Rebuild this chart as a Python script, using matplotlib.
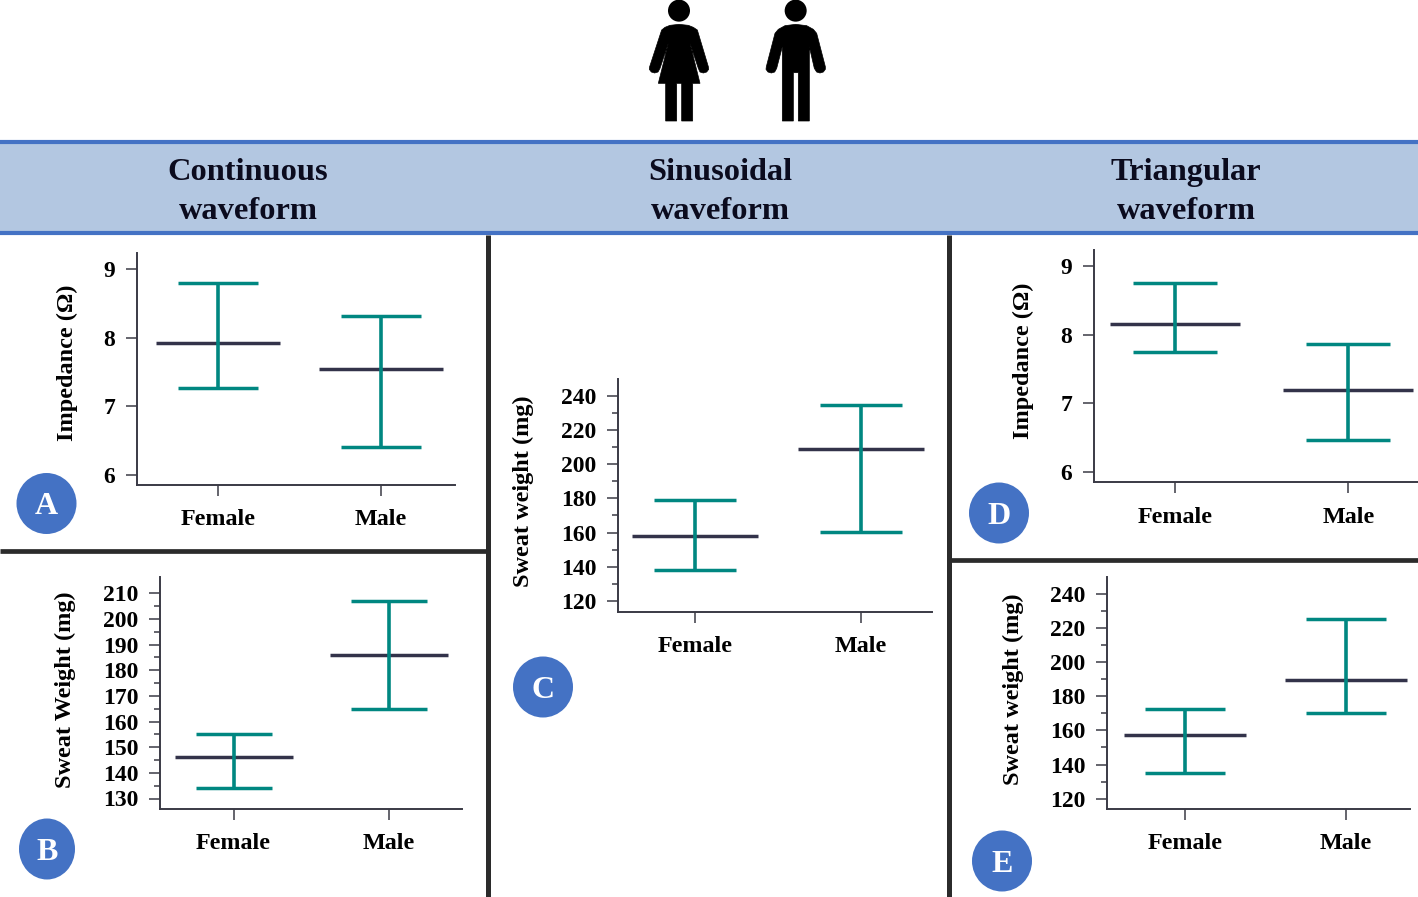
import matplotlib
matplotlib.use('Agg')
import matplotlib.pyplot as plt
from matplotlib.patches import Circle, Ellipse, Polygon, Rectangle

W, H = 1418, 897

groups = ['Female', 'Male']

# mean, upper, lower for Female / Male
a_mean = [7.92, 7.54]
a_hi = [8.79, 8.31]
a_lo = [7.26, 6.41]

b_mean = [146, 186]
b_hi = [155, 207]
b_lo = [134, 165]

c_mean = [158, 209]
c_hi = [179, 234.5]
c_lo = [138, 160.5]

d_mean = [8.16, 7.19]
d_hi = [8.75, 7.86]
d_lo = [7.75, 6.46]

e_mean = [157.3, 189.3]
e_hi = [172.7, 225]
e_lo = [135, 170]

imp_ticks = [6, 7, 8, 9]
b_ticks = [130, 140, 150, 160, 170, 180, 190, 200, 210]
b_minor = [135, 145, 155, 165, 175, 185, 195, 205]
w_ticks = [120, 140, 160, 180, 200, 220, 240]
w_minor = [130, 150, 170, 190, 210, 230]

TEAL = '#008781'
DARK = '#33334a'
BLUE = '#4472c4'
LINE = '#2b2b2b'

plt.rcParams['font.family'] = ['Liberation Serif', 'DejaVu Serif']
plt.rcParams['font.weight'] = 'bold'

fig = plt.figure(figsize=(W / 100, H / 100), dpi=100)

# overlay in pixel coordinates for the header, dividers and badges
bg = fig.add_axes([0, 0, 1, 1])
bg.set_xlim(0, W)
bg.set_ylim(H, 0)
bg.axis('off')


def panel(box, ytick_px, yticks, minor, mean, hi, lo, xs_px, ylabel, label_pos, cap, half):
    # box = left, top, right, bottom in pixels
    left, top, right, bottom = box
    ax = fig.add_axes([left / W, 1 - bottom / H, (right - left) / W, (bottom - top) / H])
    per_val = (ytick_px[0] - ytick_px[1]) / (yticks[-1] - yticks[0])
    ax.set_ylim(yticks[0] - (bottom - ytick_px[0]) / per_val,
                yticks[-1] + (ytick_px[1] - top) / per_val)
    per_x = xs_px[1] - xs_px[0]
    ax.set_xlim((left - xs_px[0]) / per_x, (right - xs_px[0]) / per_x)

    x = [0, 1]
    ax.hlines(mean, [i - half / per_x for i in x], [i + half / per_x for i in x],
              color=DARK, lw=2.5, zorder=2)
    ax.vlines(x, lo, hi, color=TEAL, lw=2.6, zorder=3)
    for vals in (hi, lo):
        ax.hlines(vals, [i - cap / per_x for i in x], [i + cap / per_x for i in x],
                  color=TEAL, lw=2.5, zorder=3)

    for s in ['top', 'right']:
        ax.spines[s].set_visible(False)
    for s in ['left', 'bottom']:
        ax.spines[s].set_color('#3a3a45')
        ax.spines[s].set_linewidth(1.4)
    ax.set_xticks(x)
    ax.set_xticklabels(groups, fontsize=17.4, fontweight='bold')
    ax.set_yticks(yticks)
    ax.set_yticklabels([str(t) for t in yticks], fontsize=17, fontweight='bold')
    if minor:
        ax.set_yticks(minor, minor=True)
    ax.tick_params(axis='x', length=8, width=1.1, color='#3a3a45', pad=9.5)
    ax.tick_params(axis='y', length=8, width=1.1, color='#3a3a45', pad=7.5)
    ax.tick_params(axis='y', which='minor', length=4, width=1.1, color='#3a3a45')
    ax.set_ylabel(ylabel, fontsize=17.5, fontweight='bold', va='center')
    ax.yaxis.set_label_coords((label_pos[0] - left) / (right - left),
                              (bottom - label_pos[1]) / (bottom - top))
    return ax


# header band
bg.add_patch(Rectangle((0, 142), W, 91, fc='#b3c7e1', ec='none'))
bg.hlines([142, 233], 0, W, color=BLUE, lw=3)

header = [('Continuous\nwaveform', 248), ('Sinusoidal\nwaveform', 720), ('Triangular\nwaveform', 1186)]
for txt, xp in header:
    bg.text(xp, 192, txt, ha='center', va='center', fontsize=23.3, fontweight='bold',
            color='#0b0b1e', linespacing=1.41)

# dividers between panels
bg.vlines([487.5, 949], 235, H, color=LINE, lw=3.6)
bg.hlines(551.5, 0, 487, color=LINE, lw=3.4)
bg.hlines(560, 950, W, color=LINE, lw=3.4)

# people icons, traced points are in 3x crop units
woman = [(125, 90), (135, 82), (150, 76), (177, 73), (205, 76), (220, 82), (232, 90),
         (265, 200), (266, 208), (260, 216), (250, 219), (240, 216), (235, 205),
         (210, 130), (240, 250), (218, 250), (218, 363), (185, 363), (185, 250),
         (170, 250), (170, 363), (137, 363), (137, 250), (115, 250), (145, 130), (120, 205),
         (114, 216), (104, 219), (94, 216), (88, 208), (89, 200)]
man = [(465, 100), (475, 88), (495, 77), (527, 73), (560, 77), (580, 88), (590, 100),
       (616, 200), (616, 208), (610, 216), (600, 219), (590, 216), (583, 205),
       (568, 140), (568, 363), (535, 363), (535, 218), (520, 218), (520, 363),
       (487, 363), (487, 140), (470, 205), (464, 216), (454, 219), (444, 216), (438, 208), (439, 200)]
for pts, head in [(woman, (177, 32)), (man, (527, 32))]:
    bg.add_patch(Polygon([(620 + p / 3, q / 3) for p, q in pts], fc='black', ec='black', lw=0.5))
    bg.add_patch(Circle((620 + head[0] / 3, head[1] / 3), 11, fc='black', ec='none'))

# badges
badges = [('A', 46.5, 503.5, 60), ('B', 47, 849, 56), ('C', 543, 687, 60), ('D', 999, 513, 60), ('E', 1002, 861, 60)]
for name, bx, by, bw in badges:
    bg.add_patch(Ellipse((bx, by), bw, 61, fc=BLUE, ec='none'))
    bg.text(bx, by + 3, name, ha='center', va='center', color='white', fontsize=23, fontweight='bold')

panel((137, 253, 455, 485), (475, 269), imp_ticks, None, a_mean, a_hi, a_lo, (218, 381),
      'Impedance (Ω)', (67, 363), 40, 62)
panel((160, 577, 461.5, 808.5), (798.5, 593.3), b_ticks, b_minor, b_mean, b_hi, b_lo, (233.5, 388.7),
      'Sweat Weight (mg)', (65, 690), 38, 59)
panel((617.7, 379, 932, 611.5), (601, 395.7), w_ticks, w_minor, c_mean, c_hi, c_lo, (694.7, 861),
      'Sweat weight (mg)', (523, 491), 41, 63)
panel((1093.7, 250, 1418, 482.3), (472, 266), imp_ticks, None, d_mean, d_hi, d_lo, (1175.3, 1348.3),
      'Impedance (Ω)', (1023, 361), 42, 65)
panel((1107, 577, 1410, 808.5), (798.7, 593.7), w_ticks, w_minor, e_mean, e_hi, e_lo, (1184.7, 1345.7),
      'Sweat weight (mg)', (1013, 689), 40, 61)

fig.savefig('out.png', dpi=100)
